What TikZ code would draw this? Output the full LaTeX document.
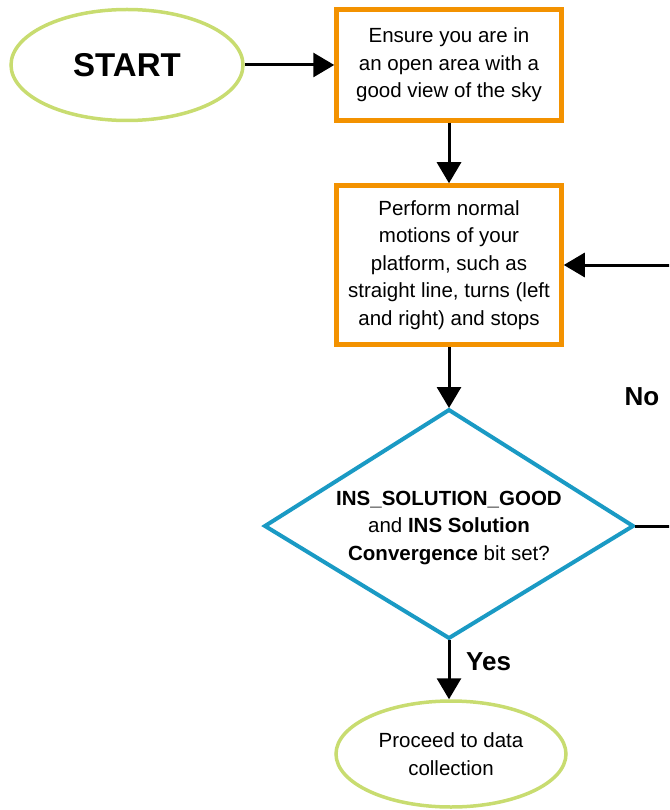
\documentclass[tikz,border=0pt]{standalone}
\usepackage{fontspec}
\setmainfont{Liberation Sans}
\usetikzlibrary{shapes.geometric,arrows.meta}
\definecolor{boxorange}{RGB}{243,146,0}
\definecolor{ovalgreen}{RGB}{200,220,112}
\definecolor{decblue}{RGB}{26,154,196}
\tikzset{
  x=1pt,y=-1pt,
  txt/.style={font=\fontsize{20.5}{27.6}\selectfont,align=center,inner sep=0pt},
  stepbox/.style={txt,draw=boxorange,line width=4.5pt,rectangle,minimum width=225pt},
  ovalbox/.style={txt,draw=ovalgreen,line width=3.5pt,ellipse},
  decline/.style={draw=decblue,line width=4pt,line join=miter},
  arr/.style={line width=3pt,-{Triangle[length=21pt,width=24pt]}},
  lbl/.style={font=\fontsize{26}{30}\selectfont\bfseries,inner sep=0pt}
}
\begin{document}
\begin{tikzpicture}
\useasboundingbox (0,0) rectangle (669,810);
\clip (0,0) rectangle (669,810);
\node[ovalbox,minimum width=232pt,minimum height=111pt,font=\fontsize{33}{36}\selectfont\bfseries] (start) at (127,65) {START};
\node[stepbox,minimum height=111pt] (box1) at (449,65) {Ensure you are in\\an open area with a\\good view of the sky};
\node[stepbox,minimum height=159pt] (box2) at (449,265) {Perform normal\\motions of your\\platform, such as\\straight line, turns (left\\and right) and stops};
% decision diamond
\coordinate (dtop) at (449,410);
\coordinate (dleft) at (265,526);
\coordinate (dright) at (633,526);
\coordinate (dbottom) at (449,638);
\draw[decline] (dtop) -- (dright) -- (dbottom) -- (dleft) -- cycle;
\node[txt] (dec) at (449,528) {\textbf{INS\_SOLUTION\_GOOD}\\and \textbf{INS Solution}\\\textbf{Convergence} bit set?};
\node[ovalbox,minimum width=230pt,minimum height=106pt] (end) at (451,754) {Proceed to data\\collection};
\node[lbl] (no) at (642,397) {No};
\node[lbl,anchor=west] (yes) at (466,662) {Yes};
\coordinate (loopA) at (700,526);
\coordinate (loopB) at (700,265);
\draw[arr] (start.east) -- (box1.west);
\draw[arr] (box1.south) -- (box2.north);
\draw[arr] (box2.south) -- ([yshift=2pt]dtop);
\draw[arr] ([yshift=-2pt]dbottom) -- (dbottom |- end.north);
\draw[arr] ([xshift=2pt]dright) -- (loopA) -- (loopB) -- (box2.east);
\end{tikzpicture}
\end{document}
